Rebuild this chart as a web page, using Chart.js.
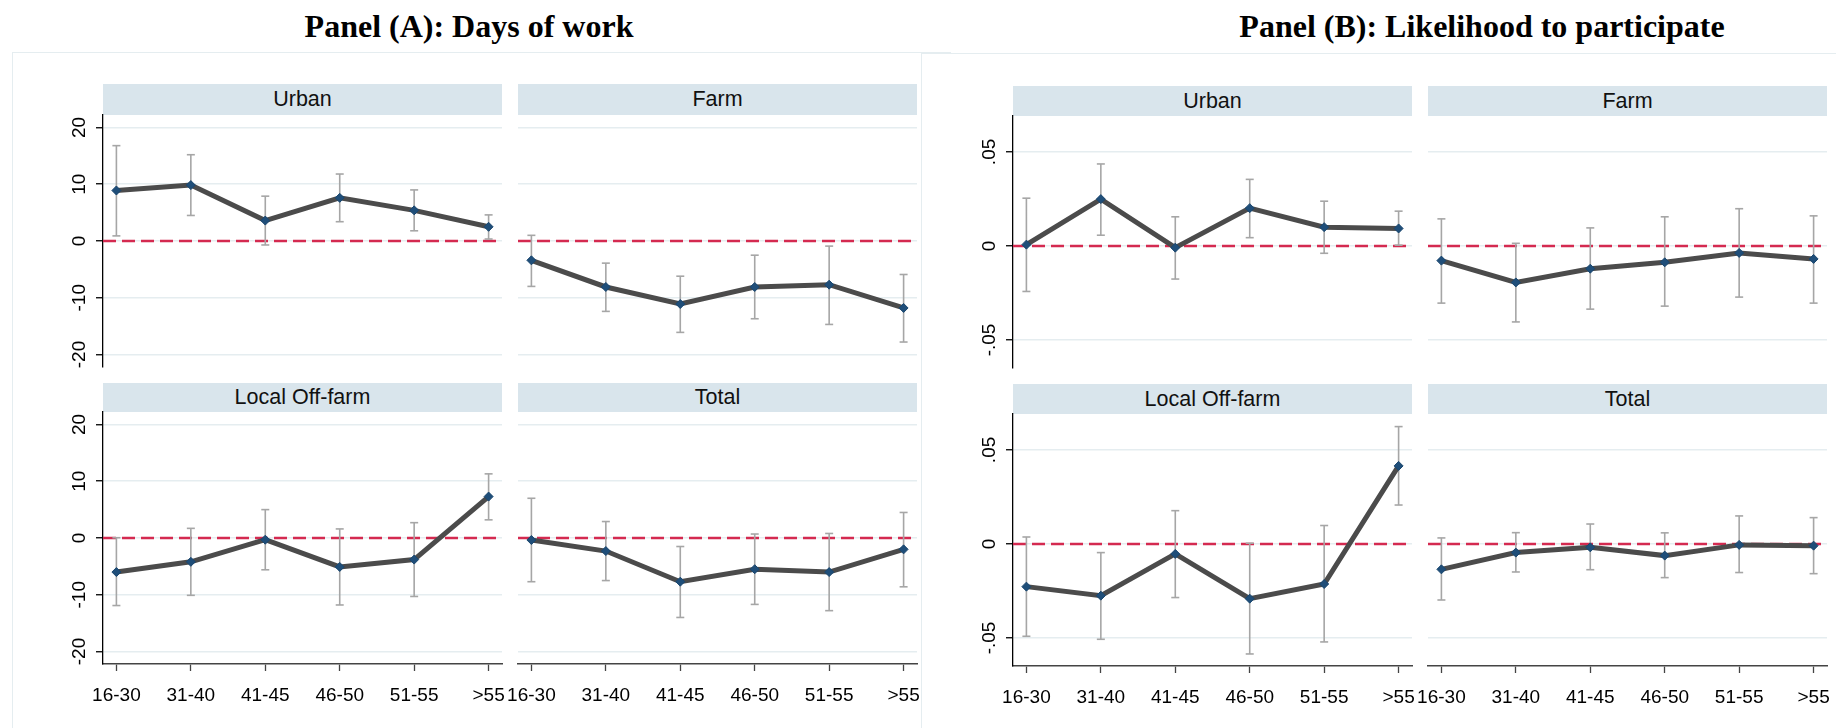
<!DOCTYPE html>
<html>
<head>
<meta charset="utf-8">
<script src="https://cdn.jsdelivr.net/npm/chart.js@4.4.1/dist/chart.umd.min.js"></script>
<style>
  html, body { margin: 0; padding: 0; background: #fff; }
  body { width: 1836px; height: 728px; position: relative; overflow: hidden; }
  .frame { position: absolute; border-top: 1.5px solid #e5edf0; border-left: 1.5px solid #e5edf0; }
  .title { position: absolute; font-family: "Liberation Serif", "Times New Roman", serif; font-weight: bold;
           font-size: 32px; line-height: 32px; white-space: nowrap; transform: translateX(-50%); color: #000; }
  .strip { position: absolute; background: #d9e5ec; display: flex; align-items: center; justify-content: center;
           font-family: "Liberation Sans", Arial, sans-serif; font-size: 21.5px; color: #111; }
  canvas { position: absolute; }
</style>
</head>
<body>
<div class="frame" style="left:12px;top:52px;width:938px;height:676px;"></div>
<div class="frame" style="left:921px;top:53px;width:915px;height:675px;"></div>
<div class="title" style="left:469px;top:10px;">Panel (A): Days of work</div>
<div class="title" style="left:1482px;top:10px;">Panel (B): Likelihood to participate</div>

<script>
// Age groups on the horizontal axis
const ageGroups = ['16-30', '31-40', '41-45', '46-50', '51-55', '>55'];

// Y-axis ticks for each panel group
const daysTicks = [-20, -10, 0, 10, 20];
const daysTickLabels = ['-20', '-10', '0', '10', '20'];
const partTicks = [-0.05, 0, 0.05];
const partTickLabels = ['-.05', '0', '.05'];

// Panel A: days of work — point estimates and 95% CI bounds
const daysUrban   = [8.9, 9.85, 3.6, 7.6, 5.4, 2.5];
const daysUrbanLo = [0.9, 4.5, -0.7, 3.4, 1.8, 0.35];
const daysUrbanHi = [16.8, 15.2, 7.9, 11.8, 9.0, 4.6];

const daysFarm   = [-3.4, -8.1, -11.1, -8.1, -7.7, -11.8];
const daysFarmLo = [-8.0, -12.4, -16.1, -13.7, -14.7, -17.8];
const daysFarmHi = [1.0, -3.9, -6.2, -2.5, -0.9, -5.9];

const daysLocal   = [-6.0, -4.2, -0.3, -5.1, -3.8, 7.3];
const daysLocalLo = [-11.9, -10.1, -5.6, -11.8, -10.3, 3.2];
const daysLocalHi = [0.05, 1.7, 5.0, 1.6, 2.7, 11.3];

const daysTotal   = [-0.35, -2.3, -7.7, -5.5, -6.0, -2.0];
const daysTotalLo = [-7.7, -7.5, -14.0, -11.7, -12.8, -8.6];
const daysTotalHi = [7.0, 2.9, -1.5, 0.7, 0.8, 4.5];

// Panel B: likelihood to participate — point estimates and 95% CI bounds
const partUrban   = [0.0007, 0.0249, -0.0009, 0.0201, 0.0100, 0.0093];
const partUrbanLo = [-0.0242, 0.0057, -0.0176, 0.0044, -0.0039, 0.0004];
const partUrbanHi = [0.0254, 0.0436, 0.0155, 0.0354, 0.0238, 0.0185];

const partFarm   = [-0.0078, -0.0194, -0.0121, -0.0087, -0.0037, -0.0069];
const partFarmLo = [-0.0304, -0.0404, -0.0336, -0.0320, -0.0272, -0.0304];
const partFarmHi = [0.0144, 0.0014, 0.0096, 0.0155, 0.0198, 0.0160];

const partLocal   = [-0.0227, -0.0275, -0.0053, -0.0291, -0.0213, 0.0415];
const partLocalLo = [-0.0491, -0.0507, -0.0285, -0.0585, -0.0521, 0.0207];
const partLocalHi = [0.0037, -0.0046, 0.0177, 0.0004, 0.0098, 0.0624];

const partTotal   = [-0.0135, -0.0046, -0.0018, -0.0062, -0.0005, -0.0009];
const partTotalLo = [-0.0298, -0.0149, -0.0137, -0.0179, -0.0152, -0.0158];
const partTotalHi = [0.0032, 0.0060, 0.0106, 0.0059, 0.0149, 0.0140];

// Axis extents
const X_MIN = 0.82, X_MAX = 6.18;
const daysRange = { min: -22.2, max: 22.2 };
const partRange = { min: -0.0649, max: 0.0691 };

const M = 30;            // transparent margin round each plot canvas
const Y_AXIS_W = 45;     // room for the rotated y labels
const X_AXIS_H = 50;     // room for the age-group labels
const FONT = '"Liberation Sans", Arial, sans-serif';

// Vertical tick labels, read bottom-to-top, placed from the y scale
const rotatedYPlugin = {
  id: 'rotatedY',
  afterDraw(chart, args, opts) {
    if (!opts || !opts.labels) return;
    const ys = chart.scales.y, ctx = chart.ctx;
    ctx.save();
    ctx.font = '19px ' + FONT;
    ctx.fillStyle = '#000';
    ctx.textAlign = 'center';
    ctx.textBaseline = 'alphabetic';
    opts.values.forEach((v, i) => {
      const py = ys.getPixelForValue(v);
      ctx.save();
      ctx.translate(chart.chartArea.left - opts.offset, py);
      ctx.rotate(-Math.PI / 2);
      ctx.fillText(opts.labels[i], 0, 0);
      ctx.restore();
    });
    ctx.restore();
  }
};

function addStrip(text, l, r, top, bottom) {
  const d = document.createElement('div');
  d.className = 'strip';
  d.style.left = l + 'px';
  d.style.top = top + 'px';
  d.style.width = (r - l) + 'px';
  d.style.height = (bottom - top) + 'px';
  d.textContent = text;
  document.body.appendChild(d);
}

function buildPanel(p) {
  const [l, t, r, b] = p.box;
  const yw = p.yAxis ? Y_AXIS_W : 0;
  const xh = p.xAxis ? X_AXIS_H : 0;
  addStrip(p.name, l, r, p.strip[0], p.strip[1]);

  const cv = document.createElement('canvas');
  const cw = r - l + yw + 2 * M, ch = b - t + xh + 2 * M;
  cv.width = cw; cv.height = ch;
  cv.style.width = cw + 'px'; cv.style.height = ch + 'px';
  cv.style.left = (l - yw - M) + 'px';
  cv.style.top = (t - M) + 'px';
  document.body.appendChild(cv);

  // confidence intervals: one vertical segment per age group, caps at both ends
  const ciPoints = [];
  p.lo.forEach((v, i) => {
    ciPoints.push({ x: i + 1, y: v }, { x: i + 1, y: p.hi[i] }, { x: i + 1, y: null });
  });

  new Chart(cv, {
    type: 'scatter',
    data: {
      datasets: [
        {
          data: p.est.map((v, i) => ({ x: i + 1, y: v })),
          showLine: true, borderColor: '#4b4b4b', borderWidth: 5,
          pointStyle: 'rectRot', pointRadius: 4.5,
          pointBackgroundColor: '#1f4e79', pointBorderColor: '#1a476f', pointBorderWidth: 1,
          order: 0
        },
        {
          data: ciPoints,
          showLine: true, spanGaps: false, borderColor: '#a6a6a6', borderWidth: 1.6,
          pointStyle: 'line', pointRadius: 4, pointBorderColor: '#a6a6a6', pointBorderWidth: 1.6,
          order: 1
        },
        {
          data: [{ x: X_MIN, y: 0 }, { x: X_MAX, y: 0 }],
          showLine: true, borderColor: '#d42a50', borderWidth: 2.4, borderDash: [13, 6],
          pointRadius: 0, order: 2
        }
      ]
    },
    options: {
      responsive: false,
      animation: false,
      devicePixelRatio: 1,
      events: [],
      layout: { padding: { left: M, right: M, top: M, bottom: M } },
      plugins: {
        legend: { display: false },
        tooltip: { enabled: false },
        rotatedY: p.yAxis ? { values: p.ticks, labels: p.tickLabels, offset: 18.5 } : false
      },
      scales: {
        x: {
          type: 'linear', min: X_MIN, max: X_MAX, display: p.xAxis,
          afterBuildTicks: s => { s.ticks = ageGroups.map((_, i) => ({ value: i + 1 })); },
          afterFit: s => { s.height = xh; },
          grid: { drawOnChartArea: false, drawTicks: true, tickLength: 7, tickColor: '#444', tickWidth: 1.3 },
          border: { display: true, color: '#444', width: 1.6 },
          ticks: {
            autoSkip: false, maxRotation: 0, minRotation: 0, padding: 13, color: '#000',
            font: { family: FONT, size: 19 },
            callback: v => ageGroups[Math.round(v) - 1]
          }
        },
        y: {
          type: 'linear', min: p.range.min, max: p.range.max,
          afterBuildTicks: s => { s.ticks = p.ticks.map(v => ({ value: v })); },
          afterFit: s => { s.width = yw; },
          grid: { color: '#e5edf0', lineWidth: 1.5, drawTicks: p.yAxis, tickLength: 7, tickColor: '#000', tickWidth: 1.3 },
          border: { display: p.yAxis, color: '#000', width: 1.3 },
          ticks: { display: false }
        }
      }
    },
    plugins: [rotatedYPlugin]
  });
}

const daysAxis = { range: daysRange, ticks: daysTicks, tickLabels: daysTickLabels };
const partAxis = { range: partRange, ticks: partTicks, tickLabels: partTickLabels };

[
  // Panel A
  { name: 'Urban', est: daysUrban, lo: daysUrbanLo, hi: daysUrbanHi, box: [103, 115, 502, 367], strip: [84, 115], yAxis: true, xAxis: false, ...daysAxis },
  { name: 'Farm', est: daysFarm, lo: daysFarmLo, hi: daysFarmHi, box: [518, 115, 917, 367], strip: [84, 115], yAxis: false, xAxis: false, ...daysAxis },
  { name: 'Local Off-farm', est: daysLocal, lo: daysLocalLo, hi: daysLocalHi, box: [103, 412, 502, 664], strip: [383, 412], yAxis: true, xAxis: true, ...daysAxis },
  { name: 'Total', est: daysTotal, lo: daysTotalLo, hi: daysTotalHi, box: [518, 412, 917, 664], strip: [383, 412], yAxis: false, xAxis: true, ...daysAxis },
  // Panel B
  { name: 'Urban', est: partUrban, lo: partUrbanLo, hi: partUrbanHi, box: [1013, 116, 1412, 368], strip: [86, 116], yAxis: true, xAxis: false, ...partAxis },
  { name: 'Farm', est: partFarm, lo: partFarmLo, hi: partFarmHi, box: [1428, 116, 1827, 368], strip: [86, 116], yAxis: false, xAxis: false, ...partAxis },
  { name: 'Local Off-farm', est: partLocal, lo: partLocalLo, hi: partLocalHi, box: [1013, 414, 1412, 666], strip: [384, 414], yAxis: true, xAxis: true, ...partAxis },
  { name: 'Total', est: partTotal, lo: partTotalLo, hi: partTotalHi, box: [1428, 414, 1827, 666], strip: [384, 414], yAxis: false, xAxis: true, ...partAxis }
].forEach(buildPanel);
</script>
</body>
</html>
